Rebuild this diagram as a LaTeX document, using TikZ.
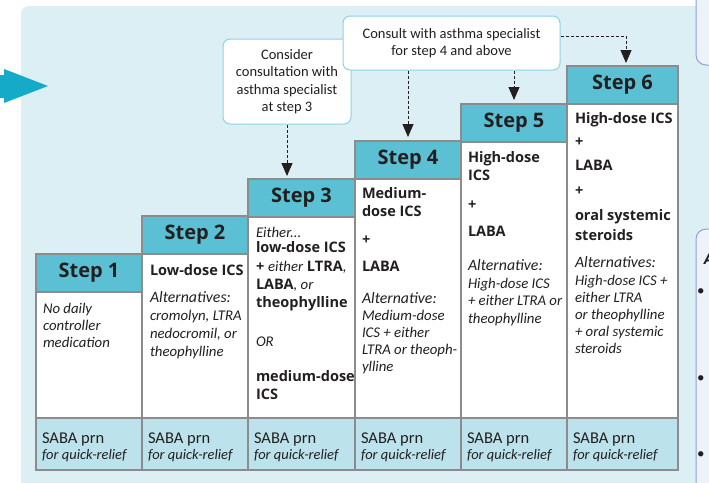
\documentclass[tikz,border=0pt]{standalone}
\usepackage{fontspec}
\setmainfont{Carlito}
\newfontfamily\osans{Open Sans}
\usetikzlibrary{arrows.meta}
\definecolor{panel}{HTML}{DCEFF4}
\definecolor{hdr}{HTML}{5BC0D4}
\definecolor{saba}{HTML}{BCE2EB}
\definecolor{gridc}{HTML}{8C8C8C}
\definecolor{callb}{HTML}{8DD3E3}
\definecolor{arrowc}{HTML}{14AAC8}
\definecolor{ink}{HTML}{231F20}
\definecolor{sideb}{HTML}{86A3DB}
\definecolor{sidef}{HTML}{EEF2FB}
\newcommand\LI[1]{{\normalfont\itshape\fontsize{14.8}{16}\selectfont #1}}
\tikzset{
  hdrbox/.style={draw=gridc, line width=1.2pt, fill=hdr, inner sep=0pt, outer sep=0pt,
    anchor=north west, minimum height=38pt, text=ink,
    font=\osans\bfseries\fontsize{20}{24}\selectfont},
  txt/.style={anchor=base west, inner sep=0pt, outer sep=0pt, text=ink},
  bsz/.style={txt, font=\osans\bfseries\fontsize{14.5}{16}\selectfont},
  isz/.style={txt, font=\itshape\fontsize{14.8}{16}\selectfont},
  altsz/.style={txt, font=\itshape\fontsize{15.8}{18}\selectfont},
  sabasz/.style={txt, font=\fontsize{16.5}{18}\selectfont},
  qrsz/.style={txt, font=\itshape\fontsize{14.5}{16}\selectfont},
  callout/.style={draw=callb, line width=1pt, fill=white, rounded corners=7pt,
    align=center, inner sep=0pt, text=ink, font=\fontsize{14.5}{17.3}\selectfont},
  dasharrow/.style={dash pattern=on 3pt off 2pt, line width=0.9pt, draw=ink,
    -{Triangle[width=11pt,length=13pt]}},
  cellline/.style={draw=gridc, line width=1.2pt},
}
\begin{document}
\begin{tikzpicture}[x=1pt,y=-1pt]
\useasboundingbox (0,0) rectangle (709,482);
% panel
\fill[panel, rounded corners=8pt] (21,6) rectangle (780,540);
% right side boxes
\draw[sideb, fill=sidef, line width=1pt, rounded corners=10pt] (696,-30) rectangle (760,65);
\draw[sideb, fill=sidef, line width=1pt, rounded corners=10pt] (696,229) rectangle (760,540);
\node[txt, font=\osans\bfseries\itshape\fontsize{15}{18}\selectfont] (ra) at (704,264) {A};
\node[txt, font=\fontsize{15}{18}\selectfont] (rb1) at (697,295) {•};
\node[txt, font=\fontsize{15}{18}\selectfont] (rb2) at (697,382) {•};
\node[txt, font=\fontsize{15}{18}\selectfont] (rb3) at (697,458) {•};
% left arrow
\fill[arrowc] (-2,75) -- (4,75) -- (4,69) -- (48,86) -- (4,103) -- (4,98) -- (-2,98) -- cycle;
% bodies and SABA row
\foreach \xa/\xb/\yb in {36/142/292, 142/248/254, 248/355/217, 355/461/179, 461/567/142, 567/678/104} {
  \fill[white] (\xa,\yb) rectangle (\xb,418);
  \fill[saba] (\xa,418) rectangle (\xb,470);
}
\foreach \xa/\xb/\yb in {36/142/292, 142/248/254, 248/355/217, 355/461/179, 461/567/142, 567/678/104} {
  \draw[cellline] (\xa,\yb) rectangle (\xb,418);
  \draw[cellline] (\xa,418) rectangle (\xb,470);
}
% headers
\node[hdrbox, minimum width=106pt] (h1) at (36,254) {Step 1};
\node[hdrbox, minimum width=106pt] (h2) at (142,216) {Step 2};
\node[hdrbox, minimum width=107pt] (h3) at (248,179) {Step 3};
\node[hdrbox, minimum width=106pt] (h4) at (355,141) {Step 4};
\node[hdrbox, minimum width=106pt] (h5) at (461,104) {Step 5};
\node[hdrbox, minimum width=111pt] (h6) at (567,66) {Step 6};
% callouts
\node[callout, minimum width=128pt, minimum height=85pt] (c1) at (287,81.5)
  {Consider\\consultation with\\asthma specialist\\at step 3};
\node[callout, minimum width=217pt, minimum height=54pt] (c2) at (451.5,43)
  {Consult with asthma specialist\\for step 4 and above};
% dashed arrows
\draw[dasharrow, shorten >=3pt] (c1.south) -- (c1.south |- h3.north);
\draw[dasharrow, shorten >=4pt] (c2.south -| h4.north) -- (h4.north);
\draw[dasharrow, shorten >=4pt] (c2.south -| h5.north) -- (h5.north);
\draw[dasharrow, shorten >=3pt, rounded corners=0pt] ([yshift=7pt]c2.east) -| ([xshift=3.5pt]h6.north);
% step 1
\node[isz] (s1a) at (43,313) {No daily};
\node[isz] (s1b) at (43,330) {controller};
\node[isz] (s1c) at (43,347) {medication};
% step 2
\node[bsz] (s2a) at (150,275) {Low-dose ICS};
\node[altsz] (s2b) at (150,302) {Alternatives:};
\node[isz] (s2c) at (150,320) {cromolyn, LTRA};
\node[isz] (s2d) at (150,338) {nedocromil, or};
\node[isz] (s2e) at (150,356) {theophylline};
% step 3
\node[isz] (s3a) at (256,237) {Either...};
\node[bsz] (s3b) at (256,252) {low-dose ICS};
\node[bsz] (s3c) at (256,271) {+ \LI{either} LTRA\LI{,}};
\node[bsz] (s3d) at (256,289) {LABA\LI{, or}};
\node[bsz] (s3e) at (256,307) {theophylline};
\node[isz] (s3f) at (256,346) {OR};
\node[bsz] (s3g) at (256,381) {medium-dose};
\node[bsz] (s3h) at (256,399) {ICS};
% step 4
\node[bsz] (s4a) at (362,198) {Medium-};
\node[bsz] (s4b) at (362,216) {dose ICS};
\node[bsz] (s4c) at (362,244) {+};
\node[bsz] (s4d) at (362,271) {LABA};
\node[altsz] (s4e) at (362,303) {Alternative:};
\node[isz] (s4f) at (362,320) {Medium-dose};
\node[isz] (s4g) at (362,337) {ICS + either};
\node[isz] (s4h) at (362,354) {LTRA or theoph-};
\node[isz] (s4i) at (362,371) {ylline};
% step 5
\node[bsz] (s5a) at (468,162) {High-dose};
\node[bsz] (s5b) at (468,180) {ICS};
\node[bsz] (s5c) at (468,209) {+};
\node[bsz] (s5d) at (468,236) {LABA};
\node[altsz] (s5e) at (468,270) {Alternative:};
\node[isz] (s5f) at (468,288) {High-dose ICS};
\node[isz] (s5g) at (468,305) {+ either LTRA or};
\node[isz] (s5h) at (468,323) {theophylline};
% step 6
\node[bsz] (s6a) at (575,123) {High-dose ICS};
\node[bsz] (s6b) at (575,146) {+};
\node[bsz] (s6c) at (575,170) {LABA};
\node[bsz] (s6d) at (575,195) {+};
\node[bsz] (s6e) at (575,220) {oral systemic};
\node[bsz] (s6f) at (575,240) {steroids};
\node[altsz] (s6g) at (575,267) {Alternatives:};
\node[isz] (s6h) at (575,285) {High-dose ICS +};
\node[isz] (s6i) at (575,302) {either LTRA};
\node[isz] (s6j) at (575,319) {or theophylline};
\node[isz] (s6k) at (575,336) {+ oral systemic};
\node[isz] (s6l) at (575,353) {steroids};
% SABA row
\foreach \xa/\nm in {36/1, 142/2, 248/3, 355/4, 461/5, 567/6} {
  \node[sabasz] (sa\nm) at (\xa+6,443) {SABA prn};
  \node[qrsz] (sq\nm) at (\xa+6,459) {for quick-relief};
}
\end{tikzpicture}
\end{document}
